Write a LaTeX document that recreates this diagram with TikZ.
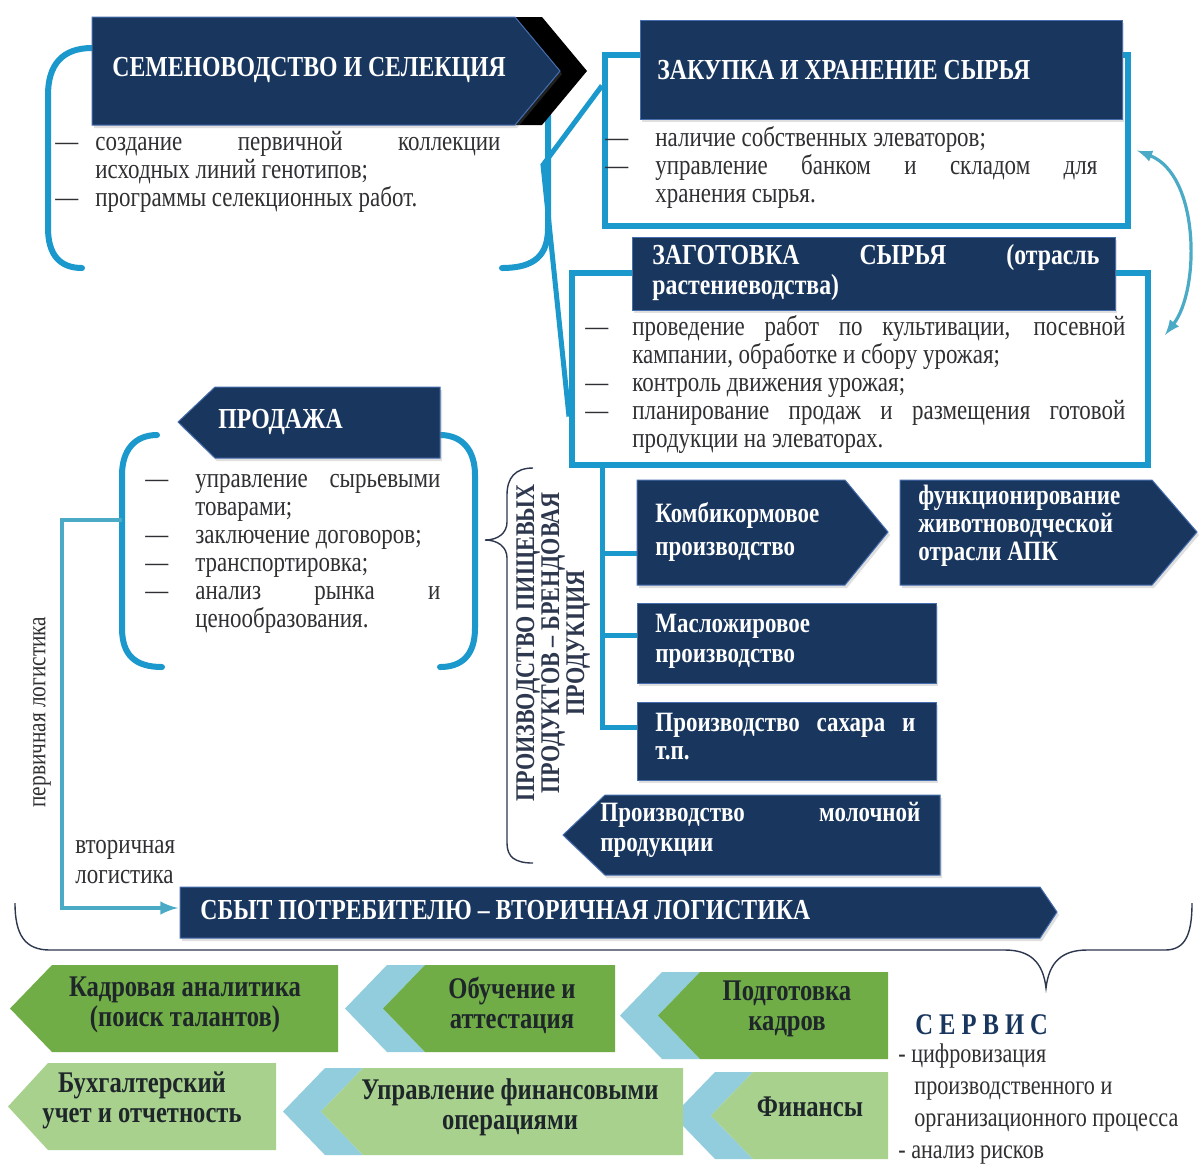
\documentclass[tikz,border=0pt]{standalone}
\usepackage{fontspec}
\setmainfont{Liberation Serif}[FakeStretch=0.82]
\usetikzlibrary{calc,fit,shadows}

\definecolor{navyc}{RGB}{24,54,94}
\definecolor{edgec}{RGB}{70,110,175}
\definecolor{brkc}{RGB}{27,152,204}
\definecolor{tealc}{RGB}{75,170,198}
\definecolor{greenA}{RGB}{112,173,71}
\definecolor{greenB}{RGB}{169,209,142}
\definecolor{lblue}{RGB}{146,205,222}
\definecolor{txtc}{RGB}{48,48,52}
\definecolor{gtxt}{RGB}{30,38,42}
\definecolor{bracec}{RGB}{45,55,78}

\newcommand\itm[1][24pt]{\ifhmode\par\fi\hangindent=#1\hangafter=1\noindent\makebox[#1][l]{---}}

\begin{document}
\begin{tikzpicture}[x=0.5pt,y=-0.5pt,>=latex,
	navy/.style={fill=navyc,draw=edgec,line width=0.5pt,drop shadow={opacity=0.25,shadow xshift=1pt,shadow yshift=-1.5pt}},
	outl/.style={draw=brkc,line width=3pt,inner sep=0pt},
	brk/.style={draw=brkc,line width=3pt,line cap=round},
	link/.style={draw=brkc,line width=2.5pt},
	logi/.style={draw=tealc,line width=2pt},
	hdr/.style={text=white,font=\bfseries\fontsize{14.5}{15}\selectfont,anchor=west,inner sep=0pt},
	lst/.style={text=txtc,font=\fontsize{14}{14}\selectfont,anchor=base west,inner sep=0pt,align=justify},
	grn/.style={fill=greenA},
	grnl/.style={fill=greenB},
	chev/.style={fill=lblue},
	gtx/.style={text=gtxt,font=\bfseries\fontsize{15}{15}\selectfont,align=center,inner sep=0pt},
	brace/.style={draw=bracec,line width=0.7pt}]
				% Background
				\fill[white] (0,0) rectangle (1203,1164);
				\useasboundingbox (0,0) rectangle (1203,1164);
				
				% Brackets
				\draw[brk] (92,48) .. controls (62,48) and (48,65) .. (48,95) -- (48,228) .. controls (48,255) and (60,268) .. (82,268);
				\draw[brk] (548,105) -- (548,228) .. controls (548,255) and (535,268) .. (502,268);
				\draw[brk] (157,435) .. controls (135,435) and (122,450) .. (122,475) -- (122,628) .. controls (122,655) and (135,667) .. (162,667);
				\draw[brk] (440,435) .. controls (462,435) and (475,450) .. (475,475) -- (475,628) .. controls (475,655) and (462,667) .. (440,667);
				
				% Outlined boxes
				\node[outl,fit={(605,55) (1128,226)}] (zakbox) {};
				\node[outl,fit={(572,273) (1148,465)}] (zagbox) {};
				
				% Links
				\coordinate (bend) at (543,165);
				\draw[link] ($(zakbox.north west)!0.19!(zakbox.south west)$) -- (bend) -- ($(zagbox.north west)!0.74!(zagbox.south west)$);
				\draw[tealc,line width=1.6pt,<->] ($(zakbox.east)+(6,10)$) .. controls (1200,175) and (1200,290) .. ($(zagbox.east)+(14,-34)$);
				\coordinate (trunk) at ($(zagbox.south west)+(33,0)$);
				\coordinate (komb) at (637,553);
				\coordinate (masl) at (637,635);
				\coordinate (sah) at (637,727);
				\draw[link] (trunk) |- (sah);
				\foreach \b in {komb,masl}
				\draw[link] (trunk |- \b) -- (\b);
				
				% Logistics
				\coordinate (logtop) at (122,520);
				\coordinate (sbyt) at (178,908);
				\draw[logi,->] (logtop) -- (62,520) -- (62,908) -- (sbyt);
				
				% Braces
				\draw[brace] (533,468) .. controls (515,468) and (507,478) .. (507,495) -- (507,522) .. controls (507,533) and (498,540) .. (485,540) .. controls (498,540) and (507,547) .. (507,558) -- (507,843) .. controls (507,857) and (515,863) .. (533,863);
				\draw[brace] (15,903) .. controls (15,935) and (25,950) .. (50,950) -- (1005,950) .. controls (1030,950) and (1043,962) .. (1046,988) .. controls (1049,962) and (1062,950) .. (1087,950) -- (1165,950) .. controls (1185,950) and (1192,935) .. (1192,903);
				
				% Navy boxes
				\fill[black] (515,17) -- (542,17) -- (587,71) -- (542,125) -- (515,125) -- (560,71) -- cycle;
				\draw[navy] (92,17) -- (515,17) -- (560,71) -- (515,125) -- (92,125) -- cycle;
				\node[navy,fit={(640,20) (1122,119)},inner sep=0pt] (zakhead) {};
				\node[navy,fit={(632,237) (1115,310)},inner sep=0pt] (zaghead) {};
				\draw[navy] (637,480) -- (845,480) -- (888,532) -- (845,585) -- (637,585) -- cycle;
				\draw[navy] (900,480) -- (1152,480) -- (1197,532) -- (1152,585) -- (900,585) -- cycle;
				\node[navy,fit={(637,603) (936,683)},inner sep=0pt] (maslbox) {};
				\node[navy,fit={(637,702) (936,780)},inner sep=0pt] (sahbox) {};
				\draw[navy] (563,835) -- (605,795) -- (940,795) -- (940,875) -- (605,875) -- cycle;
				\draw[navy] (178,422) -- (215,387) -- (440,387) -- (440,458) -- (215,458) -- cycle;
				\draw[navy] (180,887) -- (1040,887) -- (1057,912) -- (1040,938) -- (180,938) -- cycle;
				
				% Headers
				\node[hdr] (semt) at (112,70) {СЕМЕНОВОДСТВО И СЕЛЕКЦИЯ};
				\node[hdr] (zakt) at (657,70) {ЗАКУПКА И ХРАНЕНИЕ СЫРЬЯ};
				\node[hdr,text width=223.5pt,align=justify] (zagt) at (652,273) {ЗАГОТОВКА СЫРЬЯ (отрасль\linebreak растениеводства)};
				\node[hdr] (prodt) at (218,422) {ПРОДАЖА};
				\node[hdr] (sbytt) at (200,910) {СБЫТ ПОТРЕБИТЕЛЮ -- ВТОРИЧНАЯ ЛОГИСТИКА};
				\node[hdr,font=\bfseries\fontsize{14}{16.5}\selectfont,align=left] (kombt) at (655,532) {Комбикормовое\\производство};
				\node[hdr,font=\bfseries\fontsize{14}{14}\selectfont,align=left] (funct) at (918,526) {функционирование\\животноводческой\\отрасли АПК};
				\node[hdr,font=\bfseries\fontsize{14}{15}\selectfont,align=left] (maslt) at (655,641) {Масложировое\\производство};
				\node[hdr,font=\bfseries\fontsize{14}{14}\selectfont,text width=130pt,align=justify] (saht) at (655,737) {Производство сахара и\linebreak т.п.};
				\node[hdr,font=\bfseries\fontsize{14}{15}\selectfont,text width=160pt,align=justify] (molt) at (600,830) {Производство молочной\linebreak продукции};
				
				% Lists
				\node[lst,text width=222.5pt] (seml) at (55,122) {\itm[20pt]создание первичной коллекции\linebreak исходных линий генотипов;\itm[20pt]программы селекционных работ.\par};
				\node[lst,text width=246pt] (zakl) at (605,118) {\itm[25pt]наличие собственных элеваторов;\itm[25pt]управление банком и складом для\linebreak хранения сырья.\par};
				\node[lst,text width=270pt] (zagl) at (585,307) {\itm[23.5pt]проведение работ по культивации, посевной\linebreak кампании, обработке и сбору урожая;\itm[23.5pt]контроль движения урожая;\itm[23.5pt]планирование продаж и размещения готовой\linebreak продукции на элеваторах.\par};
				\node[lst,text width=147.5pt] (prodl) at (145,459) {\itm[25pt]управление сырьевыми\linebreak товарами;\itm[25pt]заключение договоров;\itm[25pt]транспортировка;\itm[25pt]анализ рынка и\linebreak ценообразования.\par};
				
				% Side labels
				\node[rotate=90,text=bracec,font=\bfseries\fontsize{13.5}{12.5}\selectfont,align=center] (pplabel) at (553,643) {ПРОИЗВОДСТВО ПИЩЕВЫХ\\ПРОДУКТОВ -- БРЕНДОВАЯ\\ПРОДУКЦИЯ};
				\node[rotate=90,text=txtc,font=\fontsize{13}{13}\selectfont] (plog) at (42,712) {первичная логистика};
				\node[text=txtc,font=\fontsize{14}{15}\selectfont,align=left,anchor=west,inner sep=0pt] (vlog) at (75,862) {вторичная\\логистика};
				
				% Green chevrons
				\foreach \x/\y in {345/965,620/972,283/1068,673/1072}
				\fill[chev] (\x,\y+43.5) -- (\x+42,\y) -- (\x+80,\y) -- (\x+38,\y+43.5) -- (\x+80,\y+87) -- (\x+42,\y+87) -- cycle;
				\fill[grn] (10,1008.5) -- (52,965) -- (338,965) -- (338,1052) -- (52,1052) -- cycle;
				\fill[grn] (383,1008.5) -- (425,965) -- (615,965) -- (615,1052) -- (425,1052) -- cycle;
				\fill[grn] (658,1015.5) -- (700,972) -- (888,972) -- (888,1059) -- (700,1059) -- cycle;
				\fill[grnl] (8,1106.5) -- (48,1063) -- (276,1063) -- (276,1150) -- (48,1150) -- cycle;
				\fill[grnl] (321,1111.5) -- (363,1068) -- (683,1068) -- (683,1155) -- (363,1155) -- cycle;
				\fill[grnl] (711,1115.5) -- (753,1072) -- (888,1072) -- (888,1159) -- (753,1159) -- cycle;
				\node[gtx] (kadr) at (185,1005) {Кадровая аналитика\\(поиск талантов)};
				\node[gtx] (obuch) at (512,1005) {Обучение и\\аттестация};
				\node[gtx] (podg) at (787,1009) {Подготовка\\кадров};
				\node[gtx] (buh) at (142,1100) {Бухгалтерский\\учет и отчетность};
				\node[gtx] (upr) at (510,1107) {Управление финансовыми\\операциями};
				\node[gtx] (fin) at (810,1107) {Финансы};
				
				% Service
				\node[text=navyc,font=\bfseries\fontsize{15}{15}\selectfont\addfontfeature{LetterSpace=20},anchor=west,inner sep=0pt] (servt) at (915,1025) {СЕРВИС};
				\node[text=txtc,font=\fontsize{13.5}{16}\selectfont,align=left,anchor=north west,inner sep=0pt] (servl) at (898,1043) {- цифровизация\\\hspace*{8pt}производственного и\\\hspace*{8pt}организационного процесса\\- анализ рисков};
			\end{tikzpicture}
\end{document}
